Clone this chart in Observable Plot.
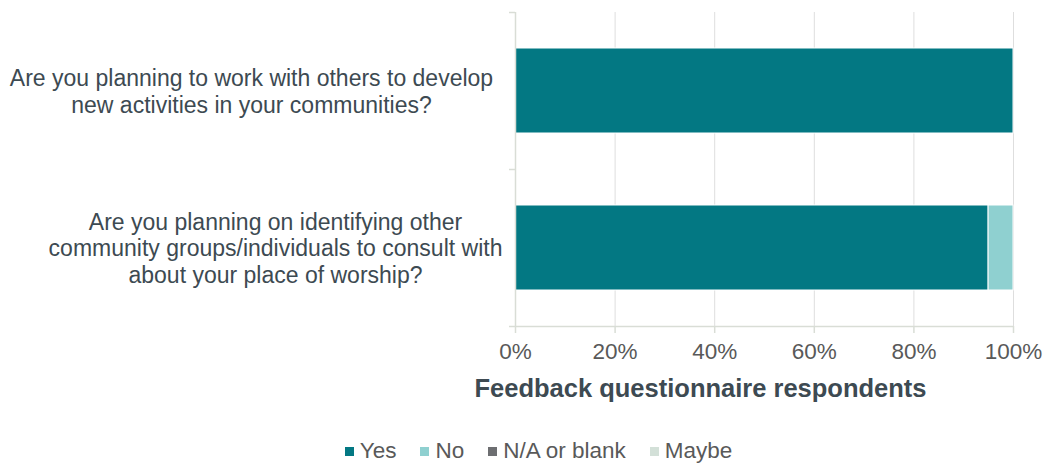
<!DOCTYPE html>
<html><head><meta charset="utf-8">
<script src="https://cdn.jsdelivr.net/npm/d3@7"></script>
<script src="https://cdn.jsdelivr.net/npm/@observablehq/plot@0.6"></script>
<style>
body{margin:0;background:#fff;font-family:"Liberation Sans",Arial,sans-serif;}
#legend{display:flex;justify-content:center;gap:24px;padding-left:30px;font-size:22.5px;line-height:26px;color:#595959;margin-top:18px;}
#legend span.item{display:flex;align-items:center;gap:6px;}
#legend i{display:inline-block;width:9px;height:9px;}
</style></head>
<body><div id="chart"></div><div id="legend"></div>
<script>
const questions = [
  "Are you planning to work with others to develop\nnew activities in your communities?",
  "Are you planning on identifying other\ncommunity groups/individuals to consult with\nabout your place of worship?"
];
const responses = ["Yes", "No", "N/A or blank", "Maybe"];
const colors = ["#037883", "#8fd0d0", "#6d6e71", "#d3e0d8"];
const yesValues = [100, 95];
const noValues = [0, 5];
const naValues = [0, 0];
const maybeValues = [0, 0];
const xTicks = [0, 20, 40, 60, 80, 100];
const xTitle = "Feedback questionnaire respondents";

const series = [yesValues, noValues, naValues, maybeValues];
const data = [];
questions.forEach((q, i) => responses.forEach((r, j) => data.push({question: q, response: r, value: series[j][i]})));

const axisColor = "#d9ddd6";
const textColor = "#3d4a52";
const half = 157 / 2;

const plot = Plot.plot({
  width: 1047, height: 420,
  marginLeft: 515, marginRight: 34, marginTop: 12, marginBottom: 94,
  style: {fontFamily: "Liberation Sans, Arial, sans-serif", fontSize: "22px", color: textColor, background: "#fff"},
  x: {domain: [0, 100], ticks: xTicks},
  y: {domain: questions, paddingInner: 0.46, paddingOuter: 0.23},
  color: {domain: responses, range: colors},
  marks: [
    Plot.gridX(xTicks.slice(1), {stroke: "#dedede", strokeOpacity: 1}),
    Plot.barX(data, Plot.stackX({x: "value", y: "question", fill: "response", stroke: "white", strokeWidth: 1, order: responses})),
    Plot.ruleX([0], {stroke: axisColor, strokeWidth: 1.5}),
    Plot.ruleY([questions[0], questions[1]], {x1: -1.2, x2: 0, dy: -half, stroke: axisColor, strokeWidth: 1.5}),
    Plot.ruleY([questions[1]], {x1: -1.2, x2: 100, dy: half, stroke: axisColor, strokeWidth: 1.5}),
    Plot.axisX({ticks: xTicks, tickFormat: d => d + "%", tickSize: 7, stroke: axisColor, strokeWidth: 1.5, tickPadding: 10, fill: "#595959", fontSize: 22.5, label: null}),
    Plot.axisY({ticks: [questions[0]], tickSize: 0, textAnchor: "middle", dx: -255, fill: textColor, fontSize: 23, lineHeight: 1.15, label: null}),
    Plot.axisY({ticks: [questions[1]], tickSize: 0, textAnchor: "middle", dx: -231, fill: textColor, fontSize: 23, lineHeight: 1.15, label: null}),
    Plot.text([xTitle], {frameAnchor: "bottom", dx: -64, dy: 70, fontWeight: "bold", fontSize: 25.5, fill: textColor})
  ]
});
document.getElementById("chart").appendChild(plot);

const lg = document.getElementById("legend");
responses.forEach((r, i) => {
  const s = document.createElement("span"); s.className = "item";
  s.innerHTML = `<i style="background:${colors[i]}"></i>${r}`;
  lg.appendChild(s);
});
</script></body></html>
